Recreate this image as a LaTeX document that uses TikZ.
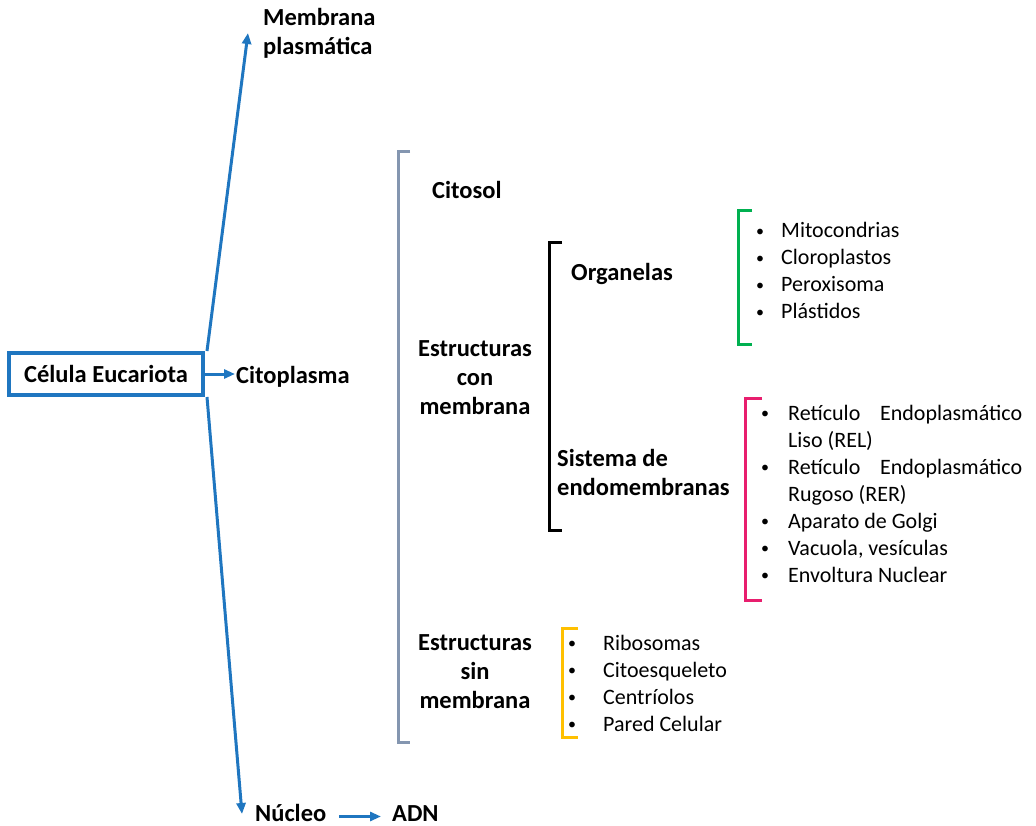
\documentclass[tikz,border=0pt]{standalone}
\usepackage{fontspec}
\setmainfont{Carlito}
\usetikzlibrary{arrows.meta,positioning}
\definecolor{azul}{RGB}{31,118,192}
\definecolor{gris}{RGB}{132,150,176}
\definecolor{verde}{RGB}{0,176,80}
\definecolor{rosa}{RGB}{232,30,110}
\definecolor{amarillo}{RGB}{255,192,0}
\newcommand{\titulo}{\fontsize{24.5}{29}\selectfont\bfseries}
\newcommand{\lista}{\fontsize{22}{27}\selectfont}
% bullet pequeno en una caja de ancho fijo
\newcommand{\bul}[1]{\makebox[#1][l]{\makebox[10pt][c]{\raisebox{1.5pt}{\fontsize{16}{16}\selectfont\textbullet}}}}

\begin{document}
\begin{tikzpicture}[x=1pt,y=-1pt,
    flecha/.style={azul,line width=3pt,-{Triangle[length=11pt,width=9pt]}},
    llave/.style={line width=3pt},
    etiq/.style={font=\titulo,inner sep=1pt},
    items/.style={font=\lista,inner sep=0pt,anchor=base west}]
\useasboundingbox (0,0) rectangle (1036,826);
            % main branches
            \node[draw=azul,line width=4pt,minimum width=194pt,minimum height=42pt,etiq](cel) at (106,374) {C\'elula Eucariota};
            \node[etiq,anchor=west](cito) at (235,377) {Citoplasma};
            \node[etiq,anchor=west,align=left](memb) at (262,33) {Membrana\\plasm\'atica};
            \node[etiq,anchor=base west,inner sep=0pt](nuc) at (255,821) {N\'ucleo};
            \node[etiq,anchor=base west,inner sep=0pt](adn) at (392,821) {ADN};
            \coordinate(mtip) at (248,33);
            \coordinate(ntip) at (242,814);

            \draw[flecha] (cel.east) -- (cel.east -| cito.west);
            \draw[flecha] ([xshift=2pt]cel.north east) -- (mtip);
            \draw[flecha] ([xshift=2pt]cel.south east) -- (ntip);
            \draw[flecha,shorten <=13pt,shorten >=11pt] ([yshift=-4pt]nuc.east) -- ([yshift=-4pt]nuc.east -| adn.west);

            % citoplasma
            \draw[llave,gris] (410,152) -- (398,152) -- (398,742) -- (410,742);
            \node[etiq,anchor=west](citosol) at (431,190) {Citosol};
            \node[etiq,align=center](conmem) at (475,378) {Estructuras\\con\\membrana};
            \node[etiq,align=center](sinmem) at (475,672) {Estructuras\\sin\\membrana};

            \draw[llave,black] (562,243) -- (549,243) -- (549,530) -- (562,530);
            \node[etiq,anchor=west](organ) at (570,274) {Organelas};
            \node[etiq,anchor=west,align=left](sistema) at (556,472) {Sistema de\\endomembranas};

            % listas
            \draw[llave,verde] (752,211) -- (738,211) -- (738,344) -- (752,344);
            \node[items](lorgan) at (755,238) {\begin{tabular}[t]{@{}l@{}l@{}}
              \bul{26pt} & Mitocondrias\\
              \bul{26pt} & Cloroplastos\\
              \bul{26pt} & Peroxisoma\\
              \bul{26pt} & Pl\'astidos
            \end{tabular}};

            \draw[llave,rosa] (762,398) -- (745,398) -- (745,600) -- (762,600);
            \node[items](lsistema) at (760,420) {\begin{tabular}[t]{@{}l@{}l@{}}
              \bul{28pt} & \makebox[234pt][s]{Ret\'iculo Endoplasm\'atico}\\
                         & Liso (REL)\\
              \bul{28pt} & \makebox[234pt][s]{Ret\'iculo Endoplasm\'atico}\\
                         & Rugoso (RER)\\
              \bul{28pt} & Aparato de Golgi\\
              \bul{28pt} & Vacuola, ves\'iculas\\
              \bul{28pt} & Envoltura Nuclear
            \end{tabular}};

            \draw[llave,amarillo] (578,628) -- (562,628) -- (562,737) -- (578,737);
            \node[items](lsinmem) at (567,650) {\begin{tabular}[t]{@{}l@{}l@{}}
              \bul{36pt} & Ribosomas\\
              \bul{36pt} & Citoesqueleto\\
              \bul{36pt} & Centr\'iolos\\
              \bul{36pt} & Pared Celular
            \end{tabular}};
\end{tikzpicture}
\end{document}
